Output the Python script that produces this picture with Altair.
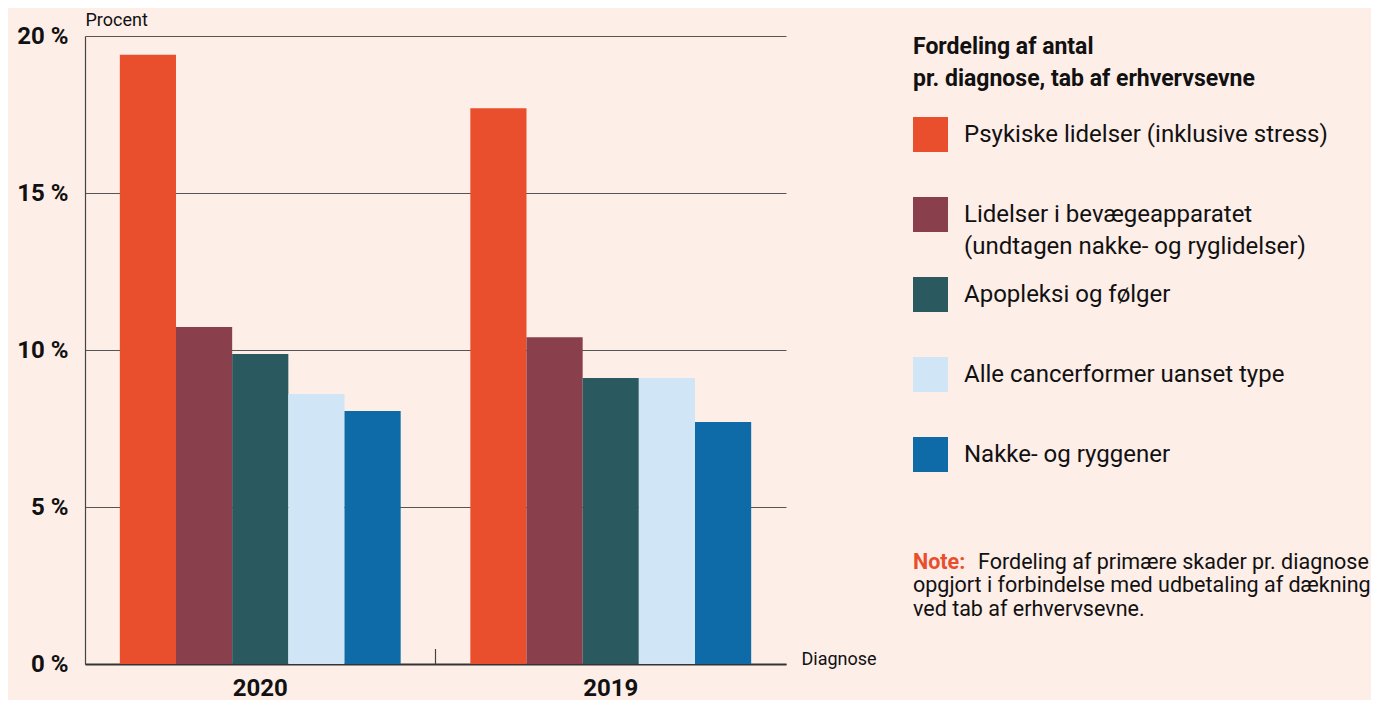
import altair as alt
import pandas as pd

years = ["2020", "2019"]
diagnoses = [
    "Psykiske lidelser (inklusive stress)",
    "Lidelser i bevægeapparatet\n(undtagen nakke- og ryglidelser)",
    "Apopleksi og følger",
    "Alle cancerformer uanset type",
    "Nakke- og ryggener",
]
values_2020 = [19.4, 10.73, 9.87, 8.6, 8.06]
values_2019 = [17.7, 10.41, 9.11, 9.11, 7.71]
colors = ["#E94F2D", "#8A3F4C", "#2A5A60", "#D0E6F6", "#0E6BA8"]

legend_title = ["Fordeling af antal", "pr. diagnose, tab af erhvervsevne"]
note_label = "Note:"
note_line1 = "Fordeling af primære skader pr. diagnose"
note_rest = "opgjort i forbindelse med udbetaling af dækning\nved tab af erhvervsevne."

rows = []
for y, vals in zip(years, [values_2020, values_2019]):
    for d, v in zip(diagnoses, vals):
        rows.append({"year": y, "diag": d, "value": v})
df = pd.DataFrame(rows)

FONT = "Roboto"
BG = "#FDEEE8"

xscale = alt.Scale(domain=years, paddingInner=0, paddingOuter=0)

bars = alt.Chart(df).mark_bar().encode(
    x=alt.X("year:N", scale=xscale, sort=years,
            axis=alt.Axis(title="Diagnose", titleX=716, titleY=-5, titleAlign="left",
                          titleBaseline="middle", titleFontSize=18, titleFontWeight="normal",
                          titleColor="#111", labelAngle=0, labelFontSize=24,
                          labelFontWeight="bold", labelColor="#111", ticks=False,
                          labelPadding=12, domain=True, domainColor="#333",
                          domainWidth=2)),
    xOffset=alt.XOffset("diag:N", sort=diagnoses,
                        scale=alt.Scale(paddingInner=0, paddingOuter=0.62)),
    y=alt.Y("value:Q", scale=alt.Scale(domain=[0, 20], nice=False),
            axis=alt.Axis(title="Procent", titleAngle=0, titleX=0, titleY=-11,
                          titleAlign="left", titleBaseline="alphabetic",
                          titleFontSize=18, titleFontWeight="normal", titleColor="#111",
                          values=[0, 5, 10, 15, 20], labelExpr="datum.value + ' %'",
                          labelFontSize=24, labelFontWeight="bold", labelColor="#111",
                          labelPadding=17, ticks=False, grid=True, gridColor="#555",
                          gridWidth=1.2, domain=True, domainColor="#444",
                          domainWidth=1.2)),
    color=alt.Color("diag:N", sort=diagnoses,
                    scale=alt.Scale(domain=diagnoses, range=colors),
                    legend=alt.Legend(title=legend_title, orient="none", legendX=828,
                                      legendY=0, titleFontSize=23, titleFontWeight="bold",
                                      titleColor="#111", titleLineHeight=32,
                                      titleLimit=600, titlePadding=26, symbolType="square",
                                      symbolSize=1225, symbolStrokeWidth=0,
                                      symbolOpacity=1, labelFontSize=24,
                                      labelColor="#111", labelOffset=16,
                                      labelLimit=600, rowPadding=18, gridAlign="all",
                                      labelExpr="split(datum.label, '\\n')")),
)

sep = alt.Chart(pd.DataFrame({"year": [years[1]]})).mark_rule(
    color="#444", strokeWidth=1.2).encode(
    x=alt.X("year:N", scale=xscale, sort=years, bandPosition=0),
    y=alt.value(613), y2=alt.value(628))

note_df = pd.DataFrame({"t": [note_label]})
n1 = alt.Chart(note_df).mark_text(align="left", baseline="middle", fontSize=21.5,
                                   fontWeight="bold", color="#E94F2D", font=FONT).encode(
    text=alt.value(note_label), x=alt.value(828), y=alt.value(527))
n2 = alt.Chart(note_df).mark_text(align="left", baseline="middle", fontSize=21.5,
                                   color="#111", font=FONT).encode(
    text=alt.value(note_line1), x=alt.value(893), y=alt.value(527))
n3 = alt.Chart(note_df).mark_text(align="left", baseline="top", fontSize=21.5,
                                   color="#111", font=FONT, lineBreak="\n",
                                   lineHeight=23.5).encode(
    text=alt.value(note_rest), x=alt.value(828), y=alt.value(539))

chart = alt.layer(bars, sep, n1, n2, n3).properties(
    width=701, height=628, background=BG,
    autosize=alt.AutoSizeParams(type="none"),
    padding={"left": 77, "top": 28, "right": 585, "bottom": 36},
).configure(font=FONT, style={"guide-label": {"lineHeight": 32}}).configure_view(stroke=None)

chart.save("out.html", embed_options={"renderer": "svg", "actions": False})
